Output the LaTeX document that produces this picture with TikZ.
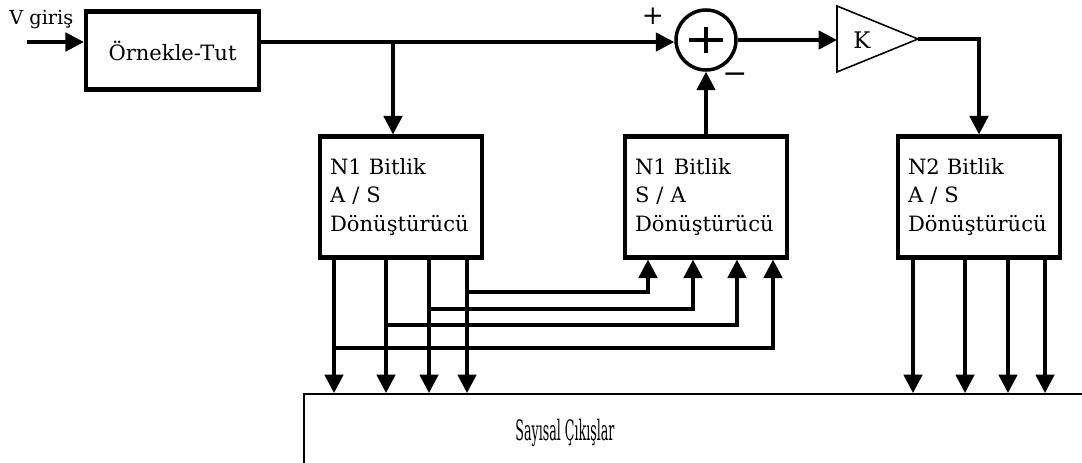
\documentclass[tikz,border=0pt]{standalone}
\usepackage{fontspec}
\setmainfont{DejaVu Serif}
\usepackage{graphicx}
\usetikzlibrary{arrows.meta}

\begin{document}
\begin{tikzpicture}[x=0.02cm,y=-0.02cm]
    % Styles for boxes and lines
    \tikzset{
      box/.style={rectangle, draw=black, line width=2.4pt, align=left, text width=2.84cm, inner xsep=0.2cm, minimum height=2.42cm, font=\fontsize{12}{16.4}\selectfont},
      shbox/.style={rectangle, draw=black, line width=2.4pt, minimum width=3.46cm, minimum height=1.56cm, font=\fontsize{12}{14}\selectfont},
      wire/.style={line width=2pt},
      arrow/.style={line width=2pt,->,>={Triangle[length=10.5pt,width=10.5pt]}},
      lbl/.style={font=\fontsize{12}{14}\selectfont, inner sep=0pt}
    }
    \useasboundingbox (0,0) rectangle (1082,463);

    % Nodes with explicit coordinates
    \node[lbl, anchor=base west, font=\fontsize{11}{13}\selectfont] (VIN) at (9,25) {V giriş};
    \coordinate (IN) at (27,42);
    \node[shbox] (SH) at (172.5,50.5) {Örnekle-Tut};
    \coordinate (BR) at (393,42);

    \node[circle, draw=black, line width=2pt, minimum size=1.2cm, inner sep=0pt] (SUM) at (706,40) {};
    \draw[wire] ([xshift=-0.34cm]SUM.center) -- ([xshift=0.34cm]SUM.center);
    \draw[wire] ([yshift=-0.26cm]SUM.center) -- ([yshift=0.26cm]SUM.center);
    \node[lbl, font=\fontsize{15}{16}\selectfont] (PLUS) at (653,16) {+};
    \node[lbl, font=\fontsize{17}{18}\selectfont] (MINUS) at (735,78) {−};

    \coordinate (KIN) at (837,40);
    \coordinate (KOUT) at (918,39);
    \draw[line width=0.9pt] (837,6) -- (KOUT) -- (837,72) -- cycle;
    \node[lbl, font=\fontsize{13}{14}\selectfont] (K) at (862,40) {K};

    \node[box] (AS) at (401,197) {N1 Bitlik\\A / S\\Dönüştürücü};
    \node[box] (SA) at (706,197) {N1 Bitlik\\S / A\\Dönüştürücü};
    \node[box] (AS2) at (979,197) {N2 Bitlik\\A / S\\Dönüştürücü};

    \node[draw=black, line width=0.9pt, minimum width=16cm, minimum height=1.8cm, anchor=north west] (OUT) at (303,393) {};
    \node[lbl] (OUTT) at (565,433) {\fontsize{16}{18}\selectfont\scalebox{0.45}[1]{Sayısal Çıkışlar}};

    % Arrows
    \draw[arrow] (IN) -- (SH.west |- IN);
    \draw[arrow] (SH.east |- IN) -- (SUM.west |- IN);
    \draw[arrow] (BR) -- (BR |- AS.north);
    \draw[arrow] (SA.north) -- (SUM.south);
    \draw[arrow] (SUM.east) -- (KIN);
    \draw[arrow] (KOUT) -| (AS2.north);

    \foreach \x in {334,386,429,467}
      \draw[arrow] (AS.south -| \x,0) -- (OUT.north -| \x,0);
    \foreach \x in {913,965,1008,1045}
      \draw[arrow] (AS2.south -| \x,0) -- (OUT.north -| \x,0);

    % A/S bits fed back to S/A
    \foreach \a/\y/\b in {467/292/648,429/309/693,386/325/737,334/348/773}
      \draw[arrow] (\a,\y) -| (SA.south -| \b,0);

\end{tikzpicture}
\end{document}
